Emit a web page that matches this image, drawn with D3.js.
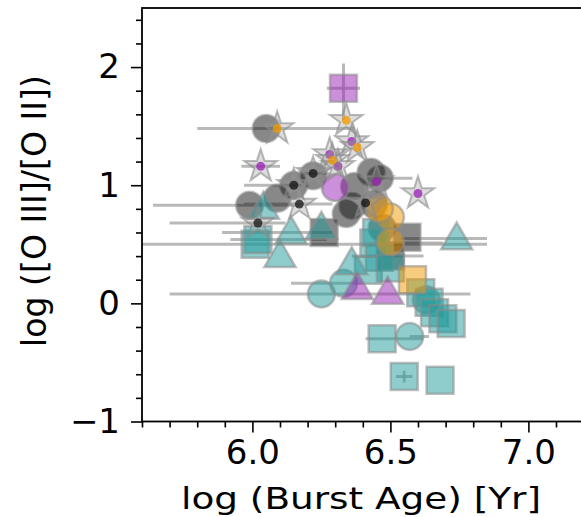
<!DOCTYPE html>
<html><head><meta charset="utf-8">
<script src="https://cdn.jsdelivr.net/npm/d3@7"></script>
<style>body{margin:0;background:#fff}svg{display:block}</style>
</head><body>
<svg id="c" width="581" height="517"></svg>
<script>
// rows: [x, y, xerrLo, xerrHi, yerrLo, yerrHi]
const greyCircles = [
  [6.05,1.48,0,0,0,0],[5.99,0.83,0.35,0.18,0,0],[6.15,1.00,0,0,0,0],[6.22,1.08,0,0,0,0],
  [6.09,0.89,0,0,0,0],[6.34,0.76,0,0,0,0],[6.36,0.82,0,0,0,0],[6.43,1.11,0,0,0,0.0],
  [6.46,1.06,0,0.12,0,0],[6.37,0.99,0,0,0,0],[6.44,0.84,0,0,0,0],[6.47,0.64,0,0,0,0]
];
const greySquares = [
  [6.26,0.60,0,0,0,0],[6.56,0.56,0,0,0,0],[6.50,0.40,0.14,0.12,0,0]
];
const tealTriangles = [
  [6.04,0.81,0,0,0,0],[6.14,0.60,0.25,0.15,0,0],[6.25,0.64,0,0,0,0],[6.10,0.40,0,0,0,0],
  [6.74,0.55,0.2,0.11,0,0],[6.36,0.34,0,0,0,0]
];
const tealSquares = [
  [6.01,0.50,0.45,0.84,0,0],[6.02,0.54,0.1,0.25,0,0],[6.44,0.51,0,0.25,0,0],[6.45,0.60,0,0,0,0],
  [6.46,0.39,0,0,0,0],[6.42,0.28,0,0,0,0],[6.50,0.30,0,0,0,0],[6.61,0.09,0,0,0,0],
  [6.64,0.01,0,0,0,0],[6.66,-0.08,0,0,0,0],[6.69,-0.13,0,0,0,0],[6.72,-0.17,0,0,0,0],
  [6.47,-0.30,0.06,0.15,0,0],[6.55,-0.62,0.03,0.03,0.05,0.05],[6.68,-0.65,0,0,0,0]
];
const tealCircles = [
  [6.25,0.08,0.55,0.54,0,0],[6.33,0.17,0.19,0.05,0,0],[6.57,-0.28,0,0.07,0,0],[6.63,0.03,0,0,0,0]
];
const purpleSquares = [[6.33,1.82,0.06,0.06,0.27,0.21]];
const purpleCircles = [[6.30,0.98,0,0,0,0]];
const purpleTriangles = [[6.38,0.13,0,0,0,0],[6.49,0.09,0,0,0,0]];
const orangeCircles = [[6.50,0.73,0,0,0,0],[6.46,0.80,0,0,0,0],[6.50,0.52,0,0,0,0]];
const orangeSquares = [[6.58,0.20,0,0,0,0]];
const blackStars = [
  [6.22,1.10,0.04,0.06,0,0],[6.15,1.00,0.18,0.03,0,0],[6.17,0.84,0.2,0.12,0,0],
  [6.02,0.68,0.32,0.1,0,0],[6.41,0.85,0,0,0,0]
];
const purpleStars = [
  [6.36,1.37,0,0,0,0],[6.28,1.26,0,0,0,0],[6.31,1.16,0,0,0,0],[6.03,1.16,0.07,0.07,0,0],
  [6.60,0.93,0,0,0,0],[6.45,1.03,0,0,0,0]
];
const orangeStars = [
  [6.09,1.48,0.29,0.28,0,0],[6.34,1.55,0,0,0,0],[6.38,1.32,0,0,0,0],[6.29,1.21,0,0,0,0]
];
const xMajor = [6.0, 6.5, 7.0];
const yMajor = [-1, 0, 1, 2];

const colors = {teal:"#1f9a9a", purple:"#9a1fb5", orange:"#f29a00", black:"#111111"};

const svg = d3.select("#c");
const L = 142, T = 8, B = 421.5, R = 142 + 1.6*276;
const x = d3.scaleLinear().domain([5.6, 7.2]).range([L, R]);
const y = d3.scaleLinear().domain([-1, 2.5]).range([B, T]);

svg.append("clipPath").attr("id","clip").append("rect")
  .attr("x",L).attr("y",T).attr("width",R-L).attr("height",B-T);
const plot = svg.append("g").attr("clip-path","url(#clip)");

const groups = [
  {d:greyCircles, shape:"circle", c:colors.black},
  {d:greySquares, shape:"square", c:colors.black},
  {d:tealCircles, shape:"circle", c:colors.teal},
  {d:tealSquares, shape:"square", c:colors.teal},
  {d:tealTriangles, shape:"triangle", c:colors.teal},
  {d:purpleSquares, shape:"square", c:colors.purple},
  {d:purpleCircles, shape:"circle", c:colors.purple},
  {d:purpleTriangles, shape:"triangle", c:colors.purple},
  {d:orangeCircles, shape:"circle", c:colors.orange},
  {d:orangeSquares, shape:"square", c:colors.orange},
  {d:blackStars, shape:"star", c:colors.black},
  {d:purpleStars, shape:"star", c:colors.purple},
  {d:orangeStars, shape:"star", c:colors.orange}
];

// error bars
const eb = plot.append("g").attr("stroke","#a8a8a8").attr("stroke-opacity",0.8).attr("stroke-width",3);
groups.forEach(g => g.d.forEach(p => {
  if (p[2] || p[3]) eb.append("line").attr("x1",x(p[0]-p[2])).attr("x2",x(p[0]+p[3]))
     .attr("y1",y(p[1])).attr("y2",y(p[1]));
  if (p[4] || p[5]) eb.append("line").attr("x1",x(p[0])).attr("x2",x(p[0]))
     .attr("y1",y(p[1]-p[4])).attr("y2",y(p[1]+p[5]));
}));

const sym = {
  circle: d3.symbol().type(d3.symbolCircle).size(Math.PI*13.5*13.5),
  square: d3.symbol().type(d3.symbolSquare).size(27*27),
  triangle: d3.symbol().type(d3.symbolTriangle).size(420),
  star: d3.symbol().type(d3.symbolStar).size(330)
};
const mk = plot.append("g");
groups.forEach(g => g.d.forEach(p => {
  const t = `translate(${x(p[0])},${y(p[1])})`;
  if (g.shape === "star") {
    mk.append("path").attr("d", sym.star()).attr("transform", t)
      .attr("fill","#9a9a9a").attr("fill-opacity",0.35)
      .attr("stroke","#8a8a8a").attr("stroke-opacity",0.6).attr("stroke-width",2);
    mk.append("circle").attr("cx",x(p[0])).attr("cy",y(p[1])).attr("r",4.5)
      .attr("fill",g.c).attr("fill-opacity",0.75);
  } else {
    mk.append("path").attr("d", sym[g.shape]()).attr("transform", t + (g.shape==="triangle"?" translate(0,2)":""))
      .attr("fill",g.c).attr("fill-opacity",0.5)
      .attr("stroke","#8a8a8a").attr("stroke-opacity",0.55).attr("stroke-width",2.5);
  }
}));

// axes
const font = "DejaVu Sans";
const xMinor = d3.range(5.6, 7.21, 0.1).map(v => +v.toFixed(2)).filter(v => !xMajor.some(m => Math.abs(m-v)<1e-6));
const yMinor = d3.range(-1, 2.51, 0.2).map(v => +v.toFixed(2)).filter(v => !yMajor.some(m => Math.abs(m-v)<1e-6));

const ax = svg.append("g").attr("transform",`translate(0,${B})`);
ax.call(d3.axisBottom(x).tickValues(xMinor).tickSize(6).tickFormat(""));
ax.call(g => g.append("g").call(d3.axisBottom(x).tickValues(xMajor).tickSize(11).tickPadding(7).tickFormat(d3.format(".1f"))));
const ay = svg.append("g").attr("transform",`translate(${L},0)`);
ay.call(d3.axisLeft(y).tickValues(yMinor).tickSize(6).tickFormat(""));
ay.call(g => g.append("g").call(d3.axisLeft(y).tickValues(yMajor).tickSize(11).tickPadding(11).tickFormat(d3.format("d"))));
svg.selectAll(".domain").remove();
svg.selectAll(".tick line").attr("stroke","#000").attr("stroke-width",1.6);
svg.selectAll(".tick text").attr("font-family",font).attr("font-size",34).attr("fill","#000");

// spines
svg.append("rect").attr("x",L).attr("y",T).attr("width",R-L).attr("height",B-T)
  .attr("fill","none").attr("stroke","#000").attr("stroke-width",1.8);

svg.append("text").attr("x",(181+541)/2).attr("y",509).attr("text-anchor","middle")
  .attr("font-family",font).attr("font-size",31)
  .attr("textLength",360).attr("lengthAdjust","spacingAndGlyphs")
  .text("log (Burst Age) [Yr]");
svg.append("text").attr("transform",`translate(46,211) rotate(-90)`).attr("text-anchor","middle")
  .attr("font-family",font).attr("font-size",33)
  .attr("textLength",272).attr("lengthAdjust","spacingAndGlyphs")
  .text("log ([O III]/[O II])");
</script>
</body></html>
